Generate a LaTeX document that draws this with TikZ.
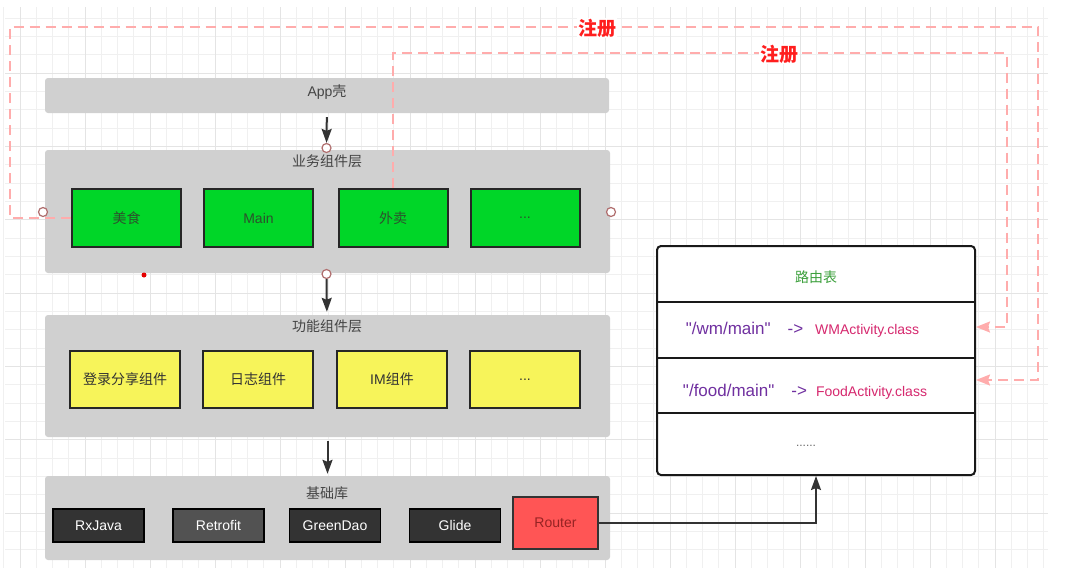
\documentclass[tikz,border=0pt]{standalone}
\usepackage{fontspec}
\setmainfont{Liberation Sans}
\newfontfamily\cjk{Noto Sans CJK SC}
\usepackage{xcolor}
\usepackage{tikz}
\usetikzlibrary{arrows.meta, positioning}
\newcommand{\zh}[1]{{\cjk #1}}
\definecolor{layergray}{RGB}{208,208,208}
\definecolor{titlegray}{RGB}{68,68,68}
\definecolor{bizgreen}{RGB}{0,214,40}
\definecolor{biztext}{RGB}{45,80,45}
\definecolor{funcyellow}{RGB}{247,244,90}
\definecolor{libdark}{RGB}{51,51,51}
\definecolor{routerred}{RGB}{255,85,85}
\definecolor{routertext}{RGB}{150,35,35}
\definecolor{regpink}{RGB}{255,172,172}
\definecolor{regred}{RGB}{255,30,30}
\definecolor{ringred}{RGB}{176,110,110}
\definecolor{tablegreen}{RGB}{60,160,60}
\definecolor{pathpurple}{RGB}{112,48,160}
\definecolor{clspink}{RGB}{214,40,110}
\definecolor{gridminor}{RGB}{240,240,240}
\definecolor{gridmajor}{RGB}{228,228,228}

\begin{document}
\begin{tikzpicture}[
    x=1pt, y=-1pt,
    font=\fontsize{14}{17}\selectfont,
    minorline/.style={gridminor, line width=1pt},
    majorline/.style={gridmajor, line width=1pt},
    layer/.style={rectangle, fill=layergray, rounded corners=3pt, inner sep=0pt, minimum width=565},
    layertitle/.style={text=titlegray, inner sep=1pt},
    bizbox/.style={rectangle, fill=bizgreen, draw=black!85, line width=2pt, text=biztext, minimum width=109, minimum height=58},
    funcbox/.style={rectangle, fill=funcyellow, draw=black!85, line width=2pt, text=black!80, minimum width=110, minimum height=57},
    libbox/.style={rectangle, fill=libdark, draw=black, line width=1.4pt, text=white, minimum width=91, minimum height=33},
    routerbox/.style={rectangle, fill=routerred, draw=black!80, line width=2pt, text=routertext, minimum width=85, minimum height=52},
    rtable/.style={rectangle, draw=black!90, fill=white, line width=2pt, rounded corners=4pt, minimum width=318, minimum height=229},
    ring/.style={circle, draw=ringred, fill=white, line width=1.2pt, minimum size=9, inner sep=0pt},
    reddot/.style={circle, fill=red!90!black, minimum size=5, inner sep=0pt},
    flow/.style={-{Stealth[length=14pt, width=10pt, inset=2pt]}, line width=2pt, black!80},
    link/.style={-{Stealth[length=14pt, width=10pt, inset=2pt]}, line width=1.8pt, black!80},
    reg/.style={-{Stealth[length=14pt, width=11pt, inset=2pt]}, regpink, line width=1.8pt, dash pattern=on 10pt off 6pt},
    regtext/.style={fill=white, inner sep=1pt, text=regred, font=\fontsize{19}{22}\selectfont\cjk\bfseries}
]
    % Background grid
    \fill[white] (0,0) rectangle (1078,568);
    \useasboundingbox (0,0) rectangle (1078,568);
    \foreach \i in {0,...,64}
        \draw[minorline] ({3.75+16.25*\i},7) -- ({3.75+16.25*\i},568);
    \foreach \j in {1,...,30}
        \draw[minorline] (5,{18.33*\j}) -- (1048,{18.33*\j});
    \foreach \i in {0,...,15}
        \draw[majorline] ({20+65*\i},7) -- ({20+65*\i},568);
    \foreach \j in {1,...,7}
        \draw[majorline] (5,{73.33*\j}) -- (1048,{73.33*\j});

    % App shell
    \node[layer, minimum width=564, minimum height=35] (app) at (327,95.5) {};
    \node[layertitle] (appT) at (327,92) {App\zh{壳}};

    % Business components
    \node[layer, minimum height=123] (biz) at (327.5,211.5) {};
    \node[layertitle] (bizT) at (327,161) {\zh{业务组件层}};
    \node[bizbox] (meishi) at (126.5,218) {\zh{美食}};
    \node[bizbox] (main) at (258.5,218) {Main};
    \node[bizbox] (waimai) at (393,218) {\zh{外卖}};
    \node[bizbox] (bizmore) at (525,218) {...};

    % Function components
    \node[layer, minimum height=122] (func) at (327.5,376) {};
    \node[layertitle] (funcT) at (327,326) {\zh{功能组件层}};
    \node[funcbox] (login) at (125,379.5) {\zh{登录分享组件}};
    \node[funcbox] (log) at (258,379.5) {\zh{日志组件}};
    \node[funcbox] (im) at (392,379.5) {IM\zh{组件}};
    \node[funcbox] (funcmore) at (525,379.5) {...};

    % Base libraries
    \node[layer, minimum height=84] (base) at (327.5,518) {};
    \node[layertitle] (baseT) at (327,493) {\zh{基础库}};
    \node[libbox] (rxjava) at (98.5,525.5) {RxJava};
    \node[libbox, fill=libdark!85!white] (retrofit) at (218.5,525.5) {Retrofit};
    \node[libbox] (greendao) at (335,525.5) {GreenDao};
    \node[libbox] (glide) at (455,525.5) {Glide};
    \node[routerbox] (router) at (555.5,523) {Router};

    % Route table
    \node[rtable] (table) at (816,360.5) {};
    \coordinate (row1) at (816,302);
    \coordinate (row2) at (816,358);
    \coordinate (row3) at (816,413);
    \foreach \r in {row1,row2,row3}
        \draw[black!90, line width=2pt] (table.west |- \r) -- (table.east |- \r);
    \node[text=tablegreen] (rtitle) at (816,277) {\zh{路由表}};
    \node (rwm) at (802.5,330) {{\color{pathpurple}\fontsize{17}{20}\selectfont \textquotedbl/wm/main\textquotedbl\hspace{17pt}->}\hspace{12pt}{\color{clspink}WMActivity.class}};
    \node (rfood) at (805,392) {{\color{pathpurple}\fontsize{17}{20}\selectfont \textquotedbl/food/main\textquotedbl\hspace{17pt}->}\hspace{9pt}{\color{clspink}FoodActivity.class}};
    \node[text=black!60, font=\fontsize{12}{14}\selectfont] (rmore) at (806,446) {......};

    % Connection points
    \node[ring] (cTop) at (326.5,148) {};
    \node[ring] (cBot) at (326.5,274) {};
    \node[ring] (cLeft) at (43,212) {};
    \node[ring] (cRight) at (611,212) {};
    \node[reddot] (dot) at (144,275) {};

    % Layer arrows
    \draw[flow, shorten <=4pt] (app) -- (cTop);
    \draw[flow, shorten >=3pt] (cBot) -- (func);
    \draw[flow, shorten <=4pt, shorten >=2pt] (func) -- (base);

    % Router to table
    \draw[link] (router.east) -| (table.south);

    % Registration
    \coordinate (outerTL) at (10,26.7);
    \coordinate (outerR) at (1038,380);
    \coordinate (innerR) at (1007,53.3);
    \draw[reg] (meishi.west) -| (outerTL) -| (outerR) -- ([yshift=-19.5pt]table.east);
    \draw[reg] (waimai.north) |- (innerR) |- ([yshift=33.5pt]table.east);
    \node[regtext] (reg1) at (597,28) {注册};
    \node[regtext] (reg2) at (779,54) {注册};
\end{tikzpicture}
\end{document}
